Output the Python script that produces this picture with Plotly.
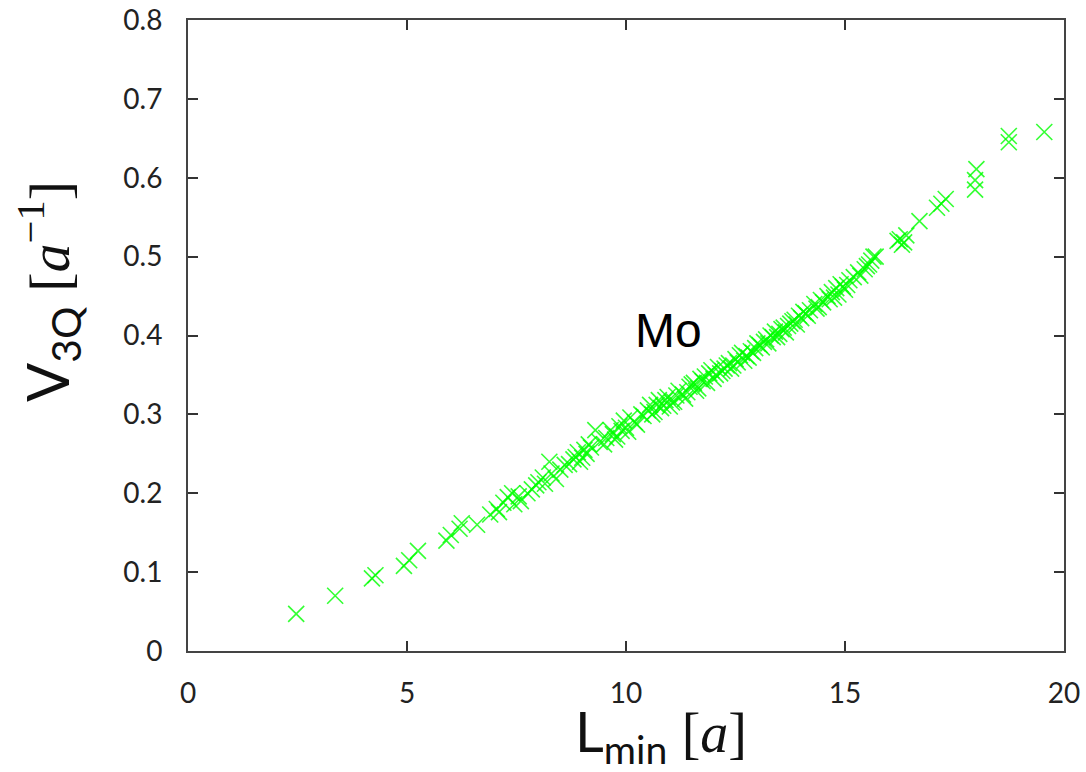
import plotly.graph_objects as go

# L_min [a]
lmin = [2.47, 3.36, 4.20, 4.28, 4.93, 5.05, 5.25, 5.90, 6.00, 6.20, 6.25, 6.60,
        6.90, 7.05, 7.20, 7.30, 7.40, 7.45, 7.60, 7.85, 7.95, 8.00, 8.10, 8.25,
        8.30, 8.40, 8.50, 8.70, 8.80, 8.85, 8.95, 9.05, 9.10, 9.20, 9.30, 9.40,
        9.55, 9.70, 9.75, 9.85, 9.90, 9.95, 10.05, 10.10, 10.25, 10.40, 10.50,
        10.55, 10.65, 10.75, 10.80, 10.85, 10.95, 11.05, 11.10, 11.20, 11.30,
        11.40, 11.45, 11.55, 11.65, 11.75, 11.80, 11.90, 12.00, 12.10, 12.20,
        12.25, 12.35, 12.45, 12.50, 12.60, 12.70, 12.80, 12.85, 12.95, 13.00,
        13.10, 13.15, 13.20, 13.30, 13.40, 13.45, 13.50, 13.60, 13.70, 13.75,
        13.85, 13.95, 14.05, 14.15, 14.30, 14.40, 14.45, 14.60, 14.70, 14.75,
        14.80, 14.90, 15.00, 15.10, 15.30, 15.45, 15.50, 15.60, 15.70, 16.20,
        16.30, 16.40, 16.70, 17.10, 17.20, 17.30, 17.97, 17.97, 18.00, 18.74,
        18.74, 19.55,
        7.10, 7.55, 7.75, 8.15, 8.60, 8.90, 9.00, 9.15, 9.50, 9.65, 9.80, 10.00,
        10.20, 10.35, 10.60, 10.70, 10.90, 11.00, 11.15, 11.35, 11.50, 11.60,
        11.70, 11.85, 11.95, 12.05, 12.15, 12.30, 12.40, 12.55, 12.65, 12.75,
        12.90, 13.05, 13.25, 13.35, 13.55, 13.65, 13.80, 13.90, 14.00, 14.10,
        14.20, 14.35, 14.50, 14.65, 14.85, 14.95, 15.05, 15.20, 15.35, 15.55,
        15.65, 16.25, 16.35]
# V_3Q [a^-1]
v3q = [0.047, 0.070, 0.092, 0.096, 0.108, 0.115, 0.127, 0.140, 0.147, 0.155,
       0.162, 0.160, 0.173, 0.180, 0.188, 0.195, 0.200, 0.186, 0.190, 0.205,
       0.210, 0.214, 0.220, 0.240, 0.225, 0.218, 0.230, 0.237, 0.243, 0.246,
       0.240, 0.255, 0.250, 0.258, 0.280, 0.265, 0.270, 0.275, 0.268, 0.285,
       0.279, 0.292, 0.278, 0.296, 0.287, 0.298, 0.305, 0.312, 0.303, 0.318,
       0.308, 0.311, 0.322, 0.315, 0.316, 0.330, 0.325, 0.328, 0.335, 0.340,
       0.333, 0.342, 0.348, 0.352, 0.345, 0.360, 0.355, 0.358, 0.365, 0.362,
       0.370, 0.375, 0.368, 0.372, 0.380, 0.384, 0.390, 0.385, 0.392, 0.395,
       0.400, 0.405, 0.398, 0.402, 0.410, 0.412, 0.415, 0.420, 0.425, 0.430,
       0.425, 0.440, 0.436, 0.445, 0.450, 0.455, 0.448, 0.460, 0.465, 0.458,
       0.470, 0.480, 0.484, 0.488, 0.495, 0.500, 0.520, 0.515, 0.527, 0.545,
       0.562, 0.567, 0.573, 0.585, 0.597, 0.611, 0.645, 0.653, 0.658,
       0.176, 0.196, 0.200, 0.212, 0.236, 0.252, 0.245, 0.262, 0.262, 0.280,
       0.272, 0.283, 0.290, 0.300, 0.300, 0.312, 0.318, 0.310, 0.324, 0.320,
       0.338, 0.330, 0.345, 0.340, 0.356, 0.350, 0.352, 0.362, 0.358, 0.366,
       0.378, 0.374, 0.378, 0.388, 0.390, 0.398, 0.408, 0.404, 0.418, 0.414,
       0.422, 0.428, 0.432, 0.434, 0.442, 0.446, 0.452, 0.462, 0.464, 0.474,
       0.476, 0.490, 0.500, 0.522, 0.518]

x_ticks = [0, 5, 10, 15, 20]
y_ticks = [0, 0.1, 0.2, 0.3, 0.4, 0.5, 0.6, 0.7, 0.8]
y_tick_labels = ["0", "0.1", "0.2", "0.3", "0.4", "0.5", "0.6", "0.7", "0.8"]

label_text = "Mo"
label_x, label_y = 10.96, 0.406
x_title = "L<sub>min</sub> <span style='font-family:Liberation Serif'>[<i>a</i>]</span>"
y_title = "V<sub>3Q</sub> <span style='font-family:Liberation Serif'>[<i>a</i><sup>−1</sup>]</span>"

fig = go.Figure()
fig.add_trace(go.Scatter(
    x=lmin, y=v3q, mode="markers",
    marker=dict(symbol="x-thin-open", size=16, color="rgb(0,255,0)",
                opacity=0.8, line=dict(color="rgb(0,255,0)", width=1.6)),
    showlegend=False, cliponaxis=False,
))

fig.add_annotation(x=label_x, y=label_y, text=label_text, showarrow=False,
                   font=dict(family="Liberation Sans, Arial", size=48, color="black"))
fig.add_annotation(xref="paper", yref="paper", x=-0.158, y=0.57, text=y_title,
                   showarrow=False, textangle=-90, xanchor="center", yanchor="middle",
                   font=dict(family="Lato", size=58, color="#111"))
fig.add_annotation(xref="paper", yref="paper", x=0.54, y=-0.133, text=x_title,
                   showarrow=False, xanchor="center", yanchor="middle",
                   font=dict(family="Lato", size=56, color="#111"))

axis_common = dict(
    showgrid=False, zeroline=False, showline=True, linecolor="#444",
    linewidth=2, mirror="allticks", ticks="inside", ticklen=10, tickwidth=2,
    tickcolor="#333", tickfont=dict(family="Lato", size=28, color="#222"),
    automargin=False, ticklabeloverflow="allow",
)

fig.update_layout(
    width=1086, height=772,
    margin=dict(l=188, r=22, t=20, b=121),
    plot_bgcolor="white", paper_bgcolor="white",
    xaxis=dict(range=[0, 20], tickmode="array", tickvals=x_ticks,
               ticklabelstandoff=16, **axis_common),
    yaxis=dict(range=[0, 0.8], tickmode="array", tickvals=y_ticks,
               ticktext=y_tick_labels, ticklabelstandoff=18, **axis_common),
)

fig.write_html("out.html", config={"displayModeBar": False},
               post_script="document.body.style.margin='0';document.body.style.overflow='hidden';")
